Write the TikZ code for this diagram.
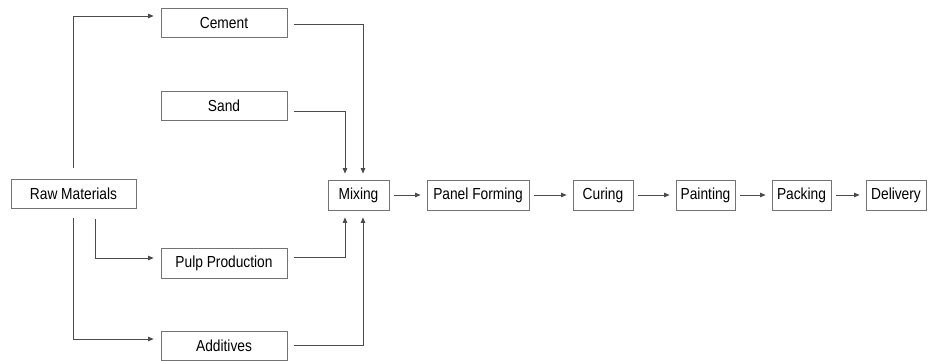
\documentclass[tikz,border=0pt]{standalone}
\usepackage{fontspec}
\setmainfont[FakeStretch=0.86]{Liberation Sans}
\usetikzlibrary{arrows.meta}
\begin{document}
\begin{tikzpicture}[x=1pt,y=-1pt,
  box/.style={draw=black!55,line width=0.8pt,fill=white,inner sep=0pt,
    minimum height=29pt,font=\fontsize{16}{18}\selectfont},
  conn/.style={draw=black!70,line width=0.8pt,-{Triangle[length=5.5pt,width=4.5pt]}}]
\useasboundingbox (0,0) rectangle (933,360);
\node[box,minimum width=126pt] (cement) at (224,22.5) {Cement};
\node[box,minimum width=126pt] (sand) at (224,105.5) {Sand};
\node[box,minimum width=125pt] (raw) at (73.5,193.5) {Raw Materials};
\node[box,minimum width=126pt,minimum height=30pt] (pulp) at (224,263) {Pulp Production};
\node[box,minimum width=126pt] (add) at (224,345.5) {Additives};
\node[box,minimum width=61pt,minimum height=30pt] (mix) at (358.5,195) {Mixing};
\node[box,minimum width=102pt,minimum height=30pt] (panel) at (478,195) {Panel Forming};
\node[box,minimum width=60pt,minimum height=30pt] (cure) at (603,195) {Curing};
\node[box,minimum width=59pt,minimum height=30pt] (paint) at (705.5,195) {Painting};
\node[box,minimum width=59pt,minimum height=30pt] (pack) at (801.5,195) {Packing};
\node[box,minimum width=60pt,minimum height=30pt] (deliv) at (896,195) {Delivery};
% raw materials branches
\draw[conn,shorten <=11pt,shorten >=7pt] (raw.north) |- ([yshift=6.5pt]cement.west);
\draw[conn,shorten <=11pt,shorten >=7pt] ([xshift=21.5pt]raw.south) |- ([yshift=5pt]pulp.west);
\draw[conn,shorten <=10pt,shorten >=7pt] (raw.south) |- ([yshift=6.5pt]add.west);
% into mixing
\draw[conn,shorten <=7pt,shorten >=6pt] ([yshift=-1.5pt]cement.east) -| ([xshift=4.5pt]mix.north);
\draw[conn,shorten <=7pt,shorten >=6pt] ([yshift=-5.5pt]sand.east) -| ([xshift=-13.5pt]mix.north);
\draw[conn,shorten <=7pt,shorten >=7pt] ([yshift=6pt]pulp.east) -| ([xshift=-13.5pt]mix.south);
\draw[conn,shorten <=7pt,shorten >=7pt] (add.east) -| ([xshift=4.5pt]mix.south);
% chain
\draw[conn,shorten <=5pt,shorten >=6pt] (mix) -- (panel);
\draw[conn,shorten <=5pt,shorten >=6pt] (panel) -- (cure);
\draw[conn,shorten <=5pt,shorten >=6pt] (cure) -- (paint);
\draw[conn,shorten <=5pt,shorten >=6pt] (paint) -- (pack);
\draw[conn,shorten <=5pt,shorten >=6pt] (pack) -- (deliv);
\end{tikzpicture}
\end{document}
